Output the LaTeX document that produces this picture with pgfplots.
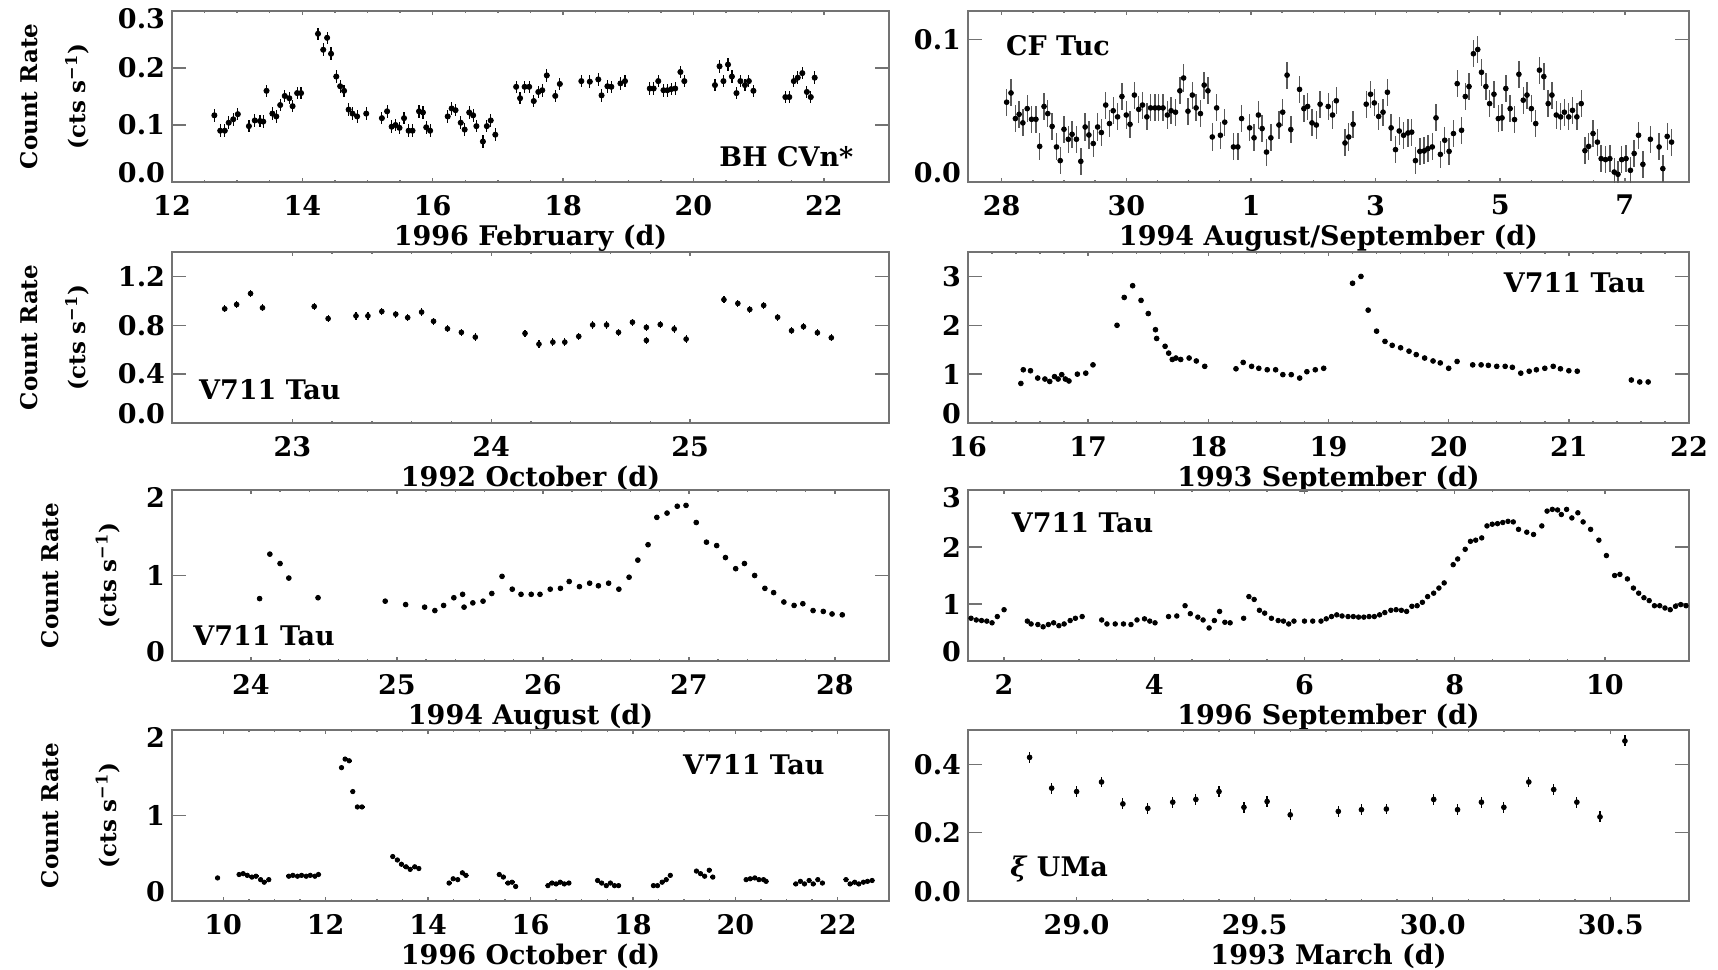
\documentclass[border=0pt]{standalone}
\usepackage{pgfplots}
\pgfplotsset{compat=1.18}
\usepackage{fontspec}
\setmainfont{DejaVu Serif}
\newcommand\fs{\fontsize{13.5}{16}\selectfont\bfseries}
\newcommand\fsy{\fontsize{11.5}{14}\selectfont\bfseries}
\newcommand\lo[1]{\raisebox{0pt}[0pt][0pt]{#1}}
\newcommand\hi[1]{\raisebox{-8.5pt}[0pt][0pt]{#1}}
\pgfplotsset{
  panel/.style={
    scale only axis, height=85.5pt,
    axis line style={black!55, line width=0.7pt},
    tick style={black!55, line width=0.7pt},
    tick align=inside,
    major tick length=7pt, minor tick length=3.5pt,
    xtick style={/pgfplots/major tick length=1.8pt, /pgfplots/minor tick length=1.0pt},
    minor y tick num=0,
    tick label style={font=\fs},
    xlabel style={font=\fs},
    ylabel style={font=\fsy, align=center},
    xticklabel style={yshift=-3pt},
    xlabel shift=-2.3pt,
  },
  L/.style={panel, width=358.5pt, ylabel shift=7.4pt, ylabel={Count Rate\\[10pt](cts s\textsuperscript{−1})}},
  LL/.style={panel, width=358.5pt, ylabel shift=6.3pt, ylabel={Count Rate\\[15pt](cts s\textsuperscript{−1})}},
  R/.style={panel, width=360.5pt},
  pts/.style={only marks, mark=*, mark size=#1, black},
  eb/.style={/pgfplots/error bars/y dir=both, /pgfplots/error bars/y fixed=#1,
     /pgfplots/error bars/error mark=none,
     /pgfplots/error bars/error bar style={line width=0.6pt, black}},
  ebx/.style={/pgfplots/error bars/x dir=both, /pgfplots/error bars/x fixed=#1,
     /pgfplots/error bars/error mark=none,
     /pgfplots/error bars/error bar style={line width=0.6pt, black}},
}
\begin{document}
\begin{tikzpicture}
\path[use as bounding box] (0,0) rectangle (859pt,-484.5pt);

% ---------- Panel 1: BH CVn ----------
\begin{axis}[L, at={(86pt,-5.5pt)}, anchor=north west,
  xmin=12, xmax=23, ymin=0, ymax=0.3,
  xtick={12,14,16,18,20,22}, xticklabels={12,14,16,18,20,22}, minor x tick num=3,
  ytick={0,0.1,0.2,0.3}, yticklabels={\lo{0.0},0.1,0.2,\hi{0.3}},
  xlabel={1996 February (d)}]
\addplot[pts=1.3pt, eb=0.011, ebx=0.025] coordinates {
(12.65,0.117)(12.74,0.090)(12.81,0.090)(12.87,0.104)(12.94,0.110)(13.01,0.119)(13.18,0.098)(13.27,0.108)(13.35,0.107)(13.40,0.106)(13.45,0.160)(13.54,0.120)(13.60,0.115)(13.66,0.135)(13.73,0.151)(13.80,0.147)(13.85,0.133)(13.92,0.156)(13.98,0.156)(14.24,0.260)(14.32,0.232)(14.38,0.253)(14.44,0.225)(14.52,0.185)(14.58,0.168)(14.64,0.160)(14.71,0.127)(14.77,0.120)(14.84,0.115)(14.98,0.120)(15.22,0.112)(15.30,0.124)(15.37,0.097)(15.43,0.100)(15.49,0.095)(15.56,0.112)(15.63,0.090)(15.69,0.090)(15.79,0.124)(15.85,0.122)(15.90,0.096)(15.96,0.090)(16.23,0.115)(16.29,0.129)(16.35,0.126)(16.43,0.104)(16.49,0.092)(16.56,0.122)(16.62,0.117)(16.67,0.098)(16.77,0.071)(16.83,0.098)(16.89,0.108)(16.96,0.083)(17.28,0.167)(17.34,0.147)(17.41,0.167)(17.48,0.167)(17.55,0.142)(17.62,0.158)(17.68,0.161)(17.75,0.187)(17.88,0.151)(17.95,0.172)(18.28,0.177)(18.41,0.176)(18.54,0.180)(18.59,0.152)(18.68,0.168)(18.74,0.167)(18.88,0.173)(18.95,0.177)(19.33,0.164)(19.39,0.164)(19.46,0.177)(19.54,0.161)(19.60,0.161)(19.66,0.163)(19.72,0.164)(19.80,0.193)(19.86,0.177)(20.33,0.170)(20.40,0.203)(20.46,0.177)(20.53,0.206)(20.59,0.185)(20.66,0.156)(20.72,0.177)(20.79,0.170)(20.85,0.177)(20.92,0.160)(21.41,0.149)(21.47,0.149)(21.54,0.177)(21.60,0.183)(21.67,0.191)(21.74,0.158)(21.80,0.149)(21.86,0.183)
};
\node[anchor=east, font=\fs] at (rel axis cs:0.96,0.15) {BH CVn*};
\end{axis}

% ---------- Panel 2: CF Tuc ----------
\begin{axis}[R, at={(484pt,-5.5pt)}, anchor=north west,
  xmin=27.46, xmax=39.03, ymin=0, ymax=0.12,
  xtick={28,30,32,34,36,38}, xticklabels={28,30,1,3,5,7}, minor x tick num=3,
  ytick={0,0.1}, yticklabels={\lo{0.0},0.1},
  xlabel={1994 August/September (d)}]
\addplot[pts=1.2pt, eb=0.0095, /pgfplots/error bars/error bar style={line width=0.7pt, black!65}] coordinates {
(28.08,0.056)(28.15,0.0625)(28.22,0.0445)(28.28,0.0475)(28.34,0.0415)(28.41,0.0515)(28.48,0.044)(28.55,0.044)(28.61,0.025)(28.68,0.053)(28.74,0.048)(28.81,0.039)(28.88,0.0246)(28.94,0.015)(29.00,0.037)(29.07,0.030)(29.13,0.0335)(29.20,0.030)(29.27,0.0145)(29.34,0.0386)(29.40,0.033)(29.47,0.027)(29.54,0.0386)(29.60,0.0347)(29.67,0.054)(29.73,0.041)(29.79,0.050)(29.86,0.0457)(29.93,0.060)(30.00,0.047)(30.06,0.0405)(30.13,0.061)(30.20,0.051)(30.26,0.054)(30.33,0.0457)(30.39,0.052)(30.46,0.052)(30.52,0.052)(30.59,0.052)(30.66,0.047)(30.72,0.050)(30.79,0.049)(30.86,0.064)(30.92,0.073)(30.99,0.0497)(31.06,0.061)(31.12,0.052)(31.19,0.048)(31.25,0.068)(31.31,0.064)(31.38,0.0316)(31.45,0.052)(31.51,0.0328)(31.58,0.042)(31.72,0.0246)(31.79,0.0246)(31.85,0.0445)(31.98,0.038)(32.05,0.031)(32.12,0.047)(32.18,0.0375)(32.25,0.021)(32.32,0.031)(32.45,0.040)(32.51,0.049)(32.58,0.075)(32.64,0.0368)(32.78,0.065)(32.85,0.0515)(32.91,0.053)(32.98,0.0415)(33.05,0.040)(33.11,0.0546)(33.24,0.053)(33.31,0.047)(33.37,0.057)(33.51,0.0274)(33.57,0.0316)(33.64,0.0405)(33.85,0.0546)(33.92,0.0616)(33.98,0.0555)(34.05,0.046)(34.12,0.049)(34.19,0.063)(34.25,0.038)(34.32,0.0227)(34.38,0.0358)(34.45,0.0328)(34.52,0.0344)(34.58,0.035)(34.64,0.015)(34.71,0.0215)(34.78,0.0218)(34.84,0.0234)(34.91,0.0246)(34.97,0.045)(35.04,0.0194)(35.11,0.0293)(35.18,0.0215)(35.25,0.034)(35.31,0.069)(35.38,0.0363)(35.44,0.060)(35.50,0.067)(35.57,0.090)(35.64,0.093)(35.70,0.077)(35.77,0.067)(35.83,0.055)(35.90,0.0616)(35.97,0.0445)(36.03,0.045)(36.09,0.0656)(36.16,0.0515)(36.23,0.0438)(36.30,0.0756)(36.37,0.0574)(36.43,0.061)(36.50,0.0515)(36.57,0.041)(36.63,0.0785)(36.70,0.074)(36.77,0.055)(36.83,0.061)(36.90,0.047)(36.97,0.0457)(37.03,0.049)(37.10,0.0457)(37.16,0.0503)(37.23,0.0457)(37.30,0.055)(37.36,0.022)(37.42,0.025)(37.49,0.034)(37.56,0.028)(37.62,0.0164)(37.69,0.0157)(37.76,0.0164)(37.83,0.007)(37.89,0.0054)(37.95,0.0157)(38.02,0.0164)(38.09,0.0082)(38.15,0.020)(38.22,0.0328)(38.29,0.0124)(38.41,0.030)(38.55,0.0246)(38.61,0.0094)(38.68,0.032)(38.75,0.028)
};
\node[anchor=west, font=\fs] at (rel axis cs:0.043,0.795) {CF Tuc};
\end{axis}

% ---------- Panel 3: V711 Tau 1992 Oct ----------
\begin{axis}[L, at={(86pt,-126pt)}, anchor=north west,
  xmin=22.395, xmax=26, ymin=0, ymax=1.4,
  xtick={23,24,25}, xticklabels={23,24,25}, minor x tick num=4,
  ytick={0,0.4,0.8,1.2}, yticklabels={\lo{0.0},0.4,0.8,1.2},
  xlabel={1992 October (d)}]
\addplot[pts=1.2pt, eb=0.03] coordinates {
(22.66,0.935)(22.72,0.97)(22.79,1.06)(22.85,0.943)(23.11,0.954)(23.18,0.855)(23.32,0.877)(23.38,0.877)(23.45,0.913)(23.52,0.891)(23.58,0.863)(23.65,0.908)(23.71,0.833)(23.78,0.772)(23.85,0.742)(23.92,0.703)(24.17,0.734)(24.24,0.646)(24.31,0.662)(24.37,0.662)(24.44,0.709)(24.51,0.803)(24.58,0.803)(24.64,0.742)(24.71,0.825)(24.78,0.783)(24.78,0.676)(24.85,0.806)(24.92,0.770)(24.98,0.687)(25.17,1.01)(25.24,0.979)(25.30,0.930)(25.37,0.963)(25.44,0.866)(25.51,0.756)(25.57,0.789)(25.64,0.739)(25.71,0.698)
};
\node[anchor=west, font=\fs] at (rel axis cs:0.028,0.194) {V711 Tau};
\end{axis}

% ---------- Panel 4: V711 Tau 1993 Sep ----------
\begin{axis}[R, at={(484pt,-126pt)}, anchor=north west,
  xmin=16, xmax=22, ymin=0, ymax=3.5,
  xtick={16,17,18,19,20,21,22}, xticklabels={16,17,18,19,20,21,22}, minor x tick num=4,
  ytick={0,1,2,3}, yticklabels={\lo{0},1,2,3},
  xlabel={1993 September (d)}]
\addplot[pts=1.2pt] coordinates {
(16.44,0.81)(16.46,1.09)(16.52,1.07)(16.58,0.92)(16.64,0.90)(16.68,0.85)(16.72,0.95)(16.75,0.90)(16.78,0.99)(16.81,0.90)(16.84,0.86)(16.91,1.0)(16.98,1.02)(17.04,1.19)(17.24,2.0)(17.30,2.57)(17.37,2.81)(17.44,2.51)(17.50,2.24)(17.56,1.91)(17.57,1.73)(17.64,1.57)(17.67,1.43)(17.70,1.30)(17.73,1.33)(17.77,1.30)(17.84,1.33)(17.90,1.27)(17.97,1.16)(18.23,1.11)(18.29,1.24)(18.36,1.16)(18.42,1.12)(18.49,1.09)(18.56,1.09)(18.62,0.99)(18.69,0.99)(18.76,0.92)(18.82,1.05)(18.89,1.09)(18.96,1.12)(19.20,2.86)(19.27,3.0)(19.33,2.31)(19.40,1.88)(19.47,1.67)(19.53,1.59)(19.60,1.54)(19.67,1.47)(19.73,1.40)(19.80,1.33)(19.87,1.27)(19.93,1.23)(20.0,1.12)(20.07,1.26)(20.20,1.19)(20.27,1.19)(20.33,1.18)(20.40,1.16)(20.47,1.16)(20.53,1.14)(20.60,1.02)(20.67,1.06)(20.73,1.09)(20.80,1.12)(20.87,1.16)(20.93,1.11)(21.0,1.07)(21.07,1.06)(21.52,0.88)(21.59,0.84)(21.66,0.84)
};
\node[anchor=east, font=\fs] at (rel axis cs:0.949,0.818) {V711 Tau};
\end{axis}

% ---------- Panel 5: V711 Tau 1994 Aug ----------
\begin{axis}[LL, at={(86pt,-245pt)}, anchor=north west,
  xmin=23.46, xmax=28.37, ymin=0, ymax=2,
  xtick={24,25,26,27,28}, xticklabels={24,25,26,27,28}, minor x tick num=4,
  ytick={0,1,2}, yticklabels={\lo{0},1,\hi{2}},
  xlabel={1994 August (d)}]
\addplot[pts=1.2pt] coordinates {
(24.06,0.73)(24.13,1.25)(24.20,1.14)(24.26,0.97)(24.46,0.74)(24.92,0.70)(25.06,0.66)(25.19,0.63)(25.26,0.59)(25.32,0.65)(25.39,0.74)(25.45,0.78)(25.46,0.63)(25.52,0.68)(25.59,0.70)(25.65,0.79)(25.72,0.99)(25.79,0.84)(25.85,0.78)(25.92,0.78)(25.98,0.78)(26.05,0.84)(26.12,0.85)(26.18,0.93)(26.25,0.87)(26.32,0.91)(26.38,0.88)(26.45,0.91)(26.52,0.84)(26.59,0.98)(26.65,1.18)(26.72,1.36)(26.78,1.68)(26.85,1.73)(26.92,1.81)(26.98,1.82)(27.05,1.62)(27.12,1.39)(27.19,1.35)(27.25,1.21)(27.32,1.08)(27.38,1.14)(27.45,1.00)(27.52,0.85)(27.58,0.80)(27.65,0.69)(27.72,0.65)(27.78,0.67)(27.85,0.59)(27.92,0.58)(27.98,0.55)(28.05,0.54)
};
\node[anchor=west, font=\fs] at (rel axis cs:0.02,0.146) {V711 Tau};
\end{axis}

% ---------- Panel 6: V711 Tau 1996 Sep ----------
\begin{axis}[R, at={(484pt,-245pt)}, anchor=north west,
  xmin=1.52, xmax=11.12, ymin=0, ymax=3,
  xtick={2,4,6,8,10}, xticklabels={2,4,6,8,10}, minor x tick num=3,
  ytick={0,1,2,3}, yticklabels={\lo{0},1,2,\hi{3}},
  xlabel={1996 September (d)}]
\addplot[pts=1.15pt] coordinates {
(1.56,0.75)(1.63,0.72)(1.70,0.71)(1.77,0.70)(1.84,0.67)(1.91,0.78)(2.0,0.90)(2.31,0.70)(2.36,0.65)(2.45,0.64)(2.52,0.60)(2.59,0.64)(2.66,0.67)(2.73,0.62)(2.80,0.65)(2.88,0.71)(2.95,0.75)(3.04,0.78)(3.30,0.72)(3.37,0.65)(3.48,0.65)(3.59,0.65)(3.69,0.64)(3.77,0.72)(3.87,0.74)(3.94,0.70)(4.01,0.67)(4.19,0.78)(4.30,0.79)(4.41,0.97)(4.48,0.83)(4.58,0.77)(4.65,0.72)(4.73,0.58)(4.80,0.71)(4.87,0.87)(4.94,0.68)(5.01,0.67)(5.19,0.75)(5.26,1.13)(5.33,1.08)(5.40,0.89)(5.47,0.84)(5.56,0.75)(5.65,0.71)(5.72,0.70)(5.79,0.65)(5.86,0.70)(6.0,0.70)(6.11,0.70)(6.22,0.70)(6.29,0.74)(6.36,0.78)(6.43,0.81)(6.50,0.79)(6.58,0.78)(6.65,0.78)(6.72,0.77)(6.79,0.77)(6.86,0.78)(6.93,0.78)(7.00,0.81)(7.07,0.85)(7.15,0.89)(7.22,0.90)(7.29,0.89)(7.36,0.87)(7.43,0.96)(7.50,0.97)(7.57,1.03)(7.64,1.13)(7.72,1.19)(7.79,1.28)(7.86,1.37)(7.98,1.69)(8.04,1.79)(8.14,1.96)(8.21,2.10)(8.28,2.12)(8.36,2.16)(8.43,2.37)(8.50,2.40)(8.57,2.41)(8.64,2.43)(8.71,2.45)(8.78,2.44)(8.85,2.31)(8.96,2.26)(9.05,2.22)(9.16,2.37)(9.23,2.63)(9.30,2.66)(9.37,2.65)(9.42,2.57)(9.49,2.66)(9.56,2.51)(9.64,2.60)(9.71,2.44)(9.81,2.31)(9.92,2.12)(10.02,1.85)(10.13,1.50)(10.20,1.52)(10.30,1.44)(10.38,1.28)(10.45,1.19)(10.52,1.11)(10.59,1.06)(10.66,0.97)(10.73,0.97)(10.80,0.93)(10.87,0.90)(10.94,0.96)(11.01,0.99)(11.08,0.97)
};
\node[anchor=west, font=\fs] at (rel axis cs:0.051,0.807) {V711 Tau};
\end{axis}

% ---------- Panel 7: V711 Tau 1996 Oct ----------
\begin{axis}[LL, at={(86pt,-365pt)}, anchor=north west,
  xmin=9, xmax=23, ymin=0, ymax=2,
  xtick={10,12,14,16,18,20,22}, xticklabels={10,12,14,16,18,20,22}, minor x tick num=3,
  ytick={0,1,2}, yticklabels={\lo{0},1,\hi{2}},
  xlabel={1996 October (d)}]
\addplot[pts=1.1pt, ebx=0.05, /pgfplots/error bars/error bar style={line width=0.8pt, black}] coordinates {
(9.89,0.27)(10.31,0.31)(10.39,0.32)(10.47,0.30)(10.56,0.28)(10.64,0.29)(10.73,0.25)(10.80,0.22)(10.89,0.25)(11.28,0.29)(11.36,0.30)(11.45,0.29)(11.53,0.30)(11.62,0.29)(11.70,0.30)(11.79,0.29)(11.86,0.31)(12.31,1.56)(12.38,1.66)(12.46,1.64)(12.53,1.28)(12.62,1.10)(12.71,1.10)(13.31,0.52)(13.40,0.48)(13.48,0.43)(13.57,0.40)(13.65,0.37)(13.74,0.40)(13.82,0.38)(14.41,0.21)(14.49,0.26)(14.58,0.25)(14.67,0.33)(14.74,0.30)(15.39,0.31)(15.47,0.28)(15.56,0.21)(15.64,0.22)(15.71,0.17)(16.34,0.18)(16.42,0.21)(16.50,0.20)(16.58,0.22)(16.66,0.20)(16.75,0.21)(17.31,0.24)(17.39,0.21)(17.48,0.18)(17.56,0.21)(17.64,0.18)(17.72,0.18)(18.40,0.18)(18.48,0.18)(18.57,0.22)(18.65,0.25)(18.73,0.30)(19.24,0.35)(19.32,0.32)(19.40,0.29)(19.49,0.36)(19.56,0.28)(20.21,0.25)(20.29,0.26)(20.38,0.27)(20.46,0.25)(20.55,0.25)(20.60,0.23)(21.18,0.20)(21.27,0.23)(21.35,0.20)(21.44,0.24)(21.52,0.20)(21.61,0.25)(21.70,0.21)(22.16,0.25)(22.24,0.20)(22.33,0.22)(22.41,0.20)(22.50,0.22)(22.58,0.23)(22.67,0.24)
};
\node[anchor=east, font=\fs] at (rel axis cs:0.92,0.795) {V711 Tau};
\end{axis}

% ---------- Panel 8: xi UMa ----------
\begin{axis}[R, at={(484pt,-365pt)}, anchor=north west,
  xmin=28.695, xmax=30.72, ymin=0, ymax=0.5,
  xtick={29,29.5,30,30.5}, xticklabels={29.0,29.5,30.0,30.5}, minor x tick num=4,
  ytick={0,0.2,0.4}, yticklabels={\lo{0.0},0.2,0.4},
  xlabel={1993 March (d)}]
\addplot[pts=1.2pt, eb=0.016, ebx=0.006] coordinates {
(28.868,0.42)(28.93,0.33)(29.0,0.32)(29.07,0.348)(29.13,0.284)(29.20,0.271)(29.27,0.289)(29.335,0.297)(29.40,0.32)(29.47,0.274)(29.535,0.291)(29.60,0.252)(29.735,0.262)(29.80,0.267)(29.87,0.269)(30.003,0.297)(30.07,0.267)(30.137,0.289)(30.20,0.274)(30.27,0.348)(30.34,0.326)(30.405,0.289)(30.47,0.246)(30.54,0.468)
};
\node[anchor=west, font=\fs] at (rel axis cs:0.049,0.187) {\textit{ξ} UMa};
\end{axis}
\end{tikzpicture}
\end{document}
